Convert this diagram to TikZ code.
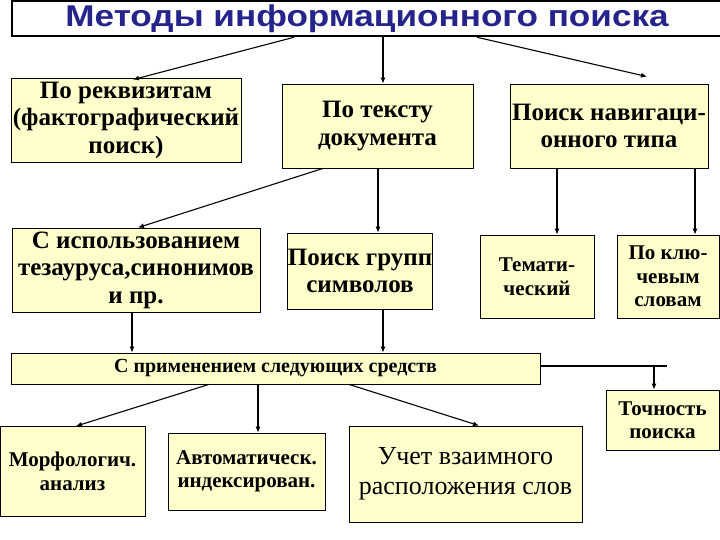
\documentclass[tikz,border=0pt]{standalone}
\usepackage{fontspec}
\setmainfont{Liberation Serif}[BoldFont={Liberation Serif Bold}]
\newfontfamily\titlefont{Liberation Sans}[FakeStretch=1.17]
\usetikzlibrary{arrows.meta}
\definecolor{boxfill}{RGB}{255,255,204}
\definecolor{titleblue}{RGB}{36,36,140}

\begin{document}
\begin{tikzpicture}[
    x=1pt, y=-1pt,
    box/.style={draw, fill=boxfill, line width=0.8pt, align=center, inner sep=0pt,
        font=\bfseries\fontsize{25}{27.5}\selectfont},
    smallbox/.style={box, font=\bfseries\fontsize{21}{23.5}\selectfont},
    arrow/.style={-{Latex[length=6pt,width=5pt]}, line width=1.1pt}
]
\useasboundingbox (0,0) rectangle (720,540);
\node[draw, line width=2.5pt, minimum width=710pt, minimum height=35pt, text=titleblue,
    font=\titlefont\bfseries\fontsize{30}{32}\selectfont] (title) at (367,18.5) {Методы информационного поиска};
% first row
\node[box, minimum width=230pt, minimum height=84pt] (reqs) at (126,120) {По реквизитам\\(фактографический\\поиск)};
\node[box, minimum width=191pt, minimum height=84pt] (text) at (377.5,126) {По тексту\\документа};
\node[box, minimum width=198pt, minimum height=84pt] (navig) at (609,126) {Поиск навигаци-\\онного типа};
% second row
\node[box, minimum width=248pt, minimum height=84pt] (thes) at (136,270) {С использованием\\тезауруса,синонимов\\и пр.};
\node[box, minimum width=144pt, minimum height=76pt] (groups) at (360,271) {Поиск групп\\символов};
\node[smallbox, minimum width=114pt, minimum height=83pt] (topic) at (537,276.5) {Темати-\\ческий};
\node[smallbox, minimum width=102pt, minimum height=83pt] (keys) at (668,276.5) {По клю-\\чевым\\словам};
% tools
\node[smallbox, font=\bfseries\fontsize{20}{22}\selectfont, minimum width=529pt, minimum height=31pt] (means) at (275.5,368.5) {С применением следующих средств};
\node[smallbox, minimum width=113pt, minimum height=60pt] (prec) at (662.5,420) {Точность\\поиска};
\node[smallbox, minimum width=145pt, minimum height=90pt] (morph) at (72.5,471.5) {Морфологич.\\анализ};
\node[smallbox, minimum width=157pt, minimum height=77pt] (index) at (246.5,471.5) {Автоматическ.\\индексирован.};
\node[box, font=\fontsize{26}{30}\selectfont, minimum width=233pt, minimum height=96pt] (words) at (465.5,474) {Учет взаимного\\расположения слов};
\coordinate (knee) at (667,366);

\draw[arrow] ([xshift=-73pt]title.south) -- ([xshift=7pt,yshift=-2pt]reqs.north);
\draw[arrow] ([xshift=16pt]title.south) -- ([xshift=5.5pt]text.north);
\draw[arrow] ([xshift=110pt]title.south) -- ([xshift=38pt,yshift=7pt]navig.north);
\draw[arrow] ([xshift=-54.5pt]text.south) -- ([xshift=2pt]thes.north);
\draw[arrow] ([xshift=0.5pt]text.south) -- ([xshift=18pt]groups.north);
\draw[arrow] ([xshift=-52pt]navig.south) -- ([xshift=20pt]topic.north);
\draw[arrow] ([xshift=86pt]navig.south) -- ([xshift=27pt]keys.north);
\draw[arrow] ([xshift=-4pt]thes.south) -- ([xshift=-143.5pt]means.north);
\draw[arrow] ([xshift=23pt]groups.south) -- ([xshift=107.5pt]means.north);
\draw[line width=1.1pt] ([yshift=2.5pt]means.east) -- (knee);
\draw[arrow] ([xshift=-8.5pt]prec.north |- knee) -- ([xshift=-8.5pt]prec.north);
\draw[arrow] ([xshift=-66.5pt]means.south) -- ([xshift=3.5pt]morph.north);
\draw[arrow] ([xshift=-17.5pt]means.south) -- ([xshift=11.5pt]index.north);
\draw[arrow] ([xshift=73.5pt]means.south) -- ([xshift=13.5pt]words.north);
\end{tikzpicture}
\end{document}
